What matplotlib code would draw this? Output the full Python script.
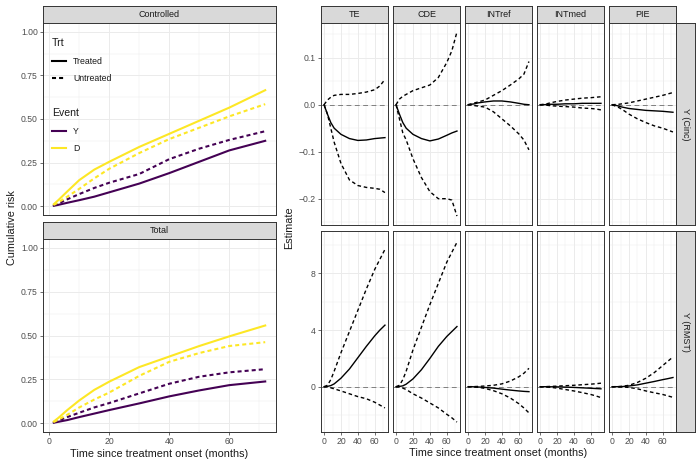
import matplotlib
matplotlib.use('Agg')
import matplotlib.pyplot as plt
from matplotlib.lines import Line2D
from matplotlib.ticker import MultipleLocator, FuncFormatter

plt.rcParams['font.family'] = ['Liberation Sans', 'DejaVu Sans']
plt.rcParams['lines.scale_dashes'] = False

PURPLE = '#440154'
YELLOW = '#FDE725'

# ---- left: cumulative risk by treatment / event ----
t_risk = [1.5, 3, 6, 10, 15, 20, 30, 40, 50, 60, 72]

ctrl_D_treated = [0.012, 0.035, 0.085, 0.15, 0.21, 0.255, 0.34, 0.415, 0.49, 0.565, 0.665]
ctrl_D_untreated = [0.008, 0.022, 0.055, 0.10, 0.16, 0.215, 0.305, 0.385, 0.45, 0.515, 0.585]
ctrl_Y_treated = [0.003, 0.008, 0.02, 0.035, 0.055, 0.08, 0.13, 0.19, 0.255, 0.32, 0.375]
ctrl_Y_untreated = [0.005, 0.015, 0.04, 0.07, 0.105, 0.135, 0.185, 0.27, 0.33, 0.38, 0.43]

tot_D_treated = [0.01, 0.03, 0.075, 0.13, 0.19, 0.237, 0.32, 0.38, 0.44, 0.495, 0.557]
tot_D_untreated = [0.007, 0.02, 0.048, 0.09, 0.135, 0.175, 0.27, 0.35, 0.40, 0.44, 0.462]
tot_Y_treated = [0.003, 0.008, 0.018, 0.035, 0.055, 0.075, 0.113, 0.153, 0.187, 0.217, 0.238]
tot_Y_untreated = [0.005, 0.015, 0.035, 0.06, 0.09, 0.115, 0.17, 0.225, 0.265, 0.29, 0.308]

# ---- right: effect decomposition estimates (est, upper, lower) ----
t_eff = [0, 4, 8, 12, 20, 30, 40, 50, 60, 66, 72]
effects = ['TE', 'CDE', 'INTref', 'INTmed', 'PIE']
outcomes = ['Y (Cinc)', 'Y (RMST)']

cinc_est = {
    'TE': [0, -0.02, -0.038, -0.05, -0.063, -0.072, -0.076, -0.075, -0.072, -0.071, -0.070],
    'CDE': [0, -0.02, -0.038, -0.05, -0.063, -0.072, -0.077, -0.073, -0.065, -0.06, -0.056],
    'INTref': [0, 0.001, 0.002, 0.004, 0.006, 0.008, 0.008, 0.006, 0.003, 0.001, 0.0],
    'INTmed': [0, 0, 0.0005, 0.001, 0.001, 0.002, 0.002, 0.003, 0.003, 0.003, 0.003],
    'PIE': [0, -0.001, -0.003, -0.005, -0.008, -0.01, -0.012, -0.013, -0.014, -0.015, -0.016],
}
cinc_hi = {
    'TE': [0, 0.01, 0.016, 0.02, 0.022, 0.022, 0.024, 0.027, 0.032, 0.04, 0.054],
    'CDE': [0, 0.012, 0.018, 0.022, 0.03, 0.036, 0.042, 0.058, 0.09, 0.115, 0.155],
    'INTref': [0, 0.002, 0.004, 0.006, 0.01, 0.02, 0.03, 0.042, 0.055, 0.065, 0.092],
    'INTmed': [0, 0.001, 0.002, 0.004, 0.007, 0.01, 0.012, 0.014, 0.015, 0.016, 0.017],
    'PIE': [0, 0.0005, 0.001, 0.002, 0.004, 0.008, 0.012, 0.016, 0.02, 0.023, 0.026],
}
cinc_lo = {
    'TE': [0, -0.02, -0.05, -0.08, -0.125, -0.16, -0.172, -0.176, -0.178, -0.18, -0.187],
    'CDE': [0, -0.03, -0.06, -0.075, -0.115, -0.155, -0.185, -0.2, -0.2, -0.203, -0.237],
    'INTref': [0, -0.001, -0.002, -0.003, -0.005, -0.015, -0.03, -0.045, -0.062, -0.075, -0.096],
    'INTmed': [0, -0.0005, -0.001, -0.002, -0.003, -0.004, -0.005, -0.007, -0.008, -0.009, -0.011],
    'PIE': [0, -0.003, -0.006, -0.01, -0.02, -0.03, -0.038, -0.045, -0.05, -0.054, -0.058],
}

rmst_est = {
    'TE': [0, 0.02, 0.08, 0.2, 0.6, 1.25, 2.05, 2.85, 3.6, 4.0, 4.35],
    'CDE': [0, 0.02, 0.06, 0.18, 0.55, 1.2, 2.0, 2.85, 3.55, 3.9, 4.25],
    'INTref': [0, 0, -0.01, -0.02, -0.05, -0.1, -0.17, -0.24, -0.3, -0.33, -0.35],
    'INTmed': [0, 0, 0, -0.005, -0.01, -0.03, -0.05, -0.08, -0.11, -0.13, -0.15],
    'PIE': [0, 0, 0.005, 0.01, 0.05, 0.13, 0.25, 0.37, 0.5, 0.57, 0.65],
}
rmst_hi = {
    'TE': [0, 0.1, 0.5, 1.1, 2.4, 3.9, 5.4, 6.9, 8.3, 9.0, 9.7],
    'CDE': [0, 0.1, 0.5, 1.1, 2.6, 4.2, 5.8, 7.3, 8.8, 9.5, 10.2],
    'INTref': [0, 0.005, 0.01, 0.02, 0.05, 0.1, 0.2, 0.4, 0.7, 0.95, 1.3],
    'INTmed': [0, 0, 0.01, 0.02, 0.04, 0.07, 0.1, 0.14, 0.18, 0.21, 0.25],
    'PIE': [0, 0.005, 0.01, 0.03, 0.1, 0.3, 0.6, 1.0, 1.5, 1.8, 2.1],
}
rmst_lo = {
    'TE': [0, -0.02, -0.08, -0.15, -0.3, -0.5, -0.7, -0.85, -1.1, -1.3, -1.5],
    'CDE': [0, -0.03, -0.1, -0.2, -0.5, -0.8, -1.15, -1.5, -1.95, -2.2, -2.5],
    'INTref': [0, -0.005, -0.02, -0.04, -0.12, -0.28, -0.5, -0.8, -1.2, -1.5, -1.85],
    'INTmed': [0, -0.01, -0.02, -0.04, -0.1, -0.2, -0.3, -0.42, -0.55, -0.65, -0.77],
    'PIE': [0, -0.005, -0.01, -0.02, -0.05, -0.15, -0.3, -0.43, -0.55, -0.65, -0.75],
}

W, H = 700, 466
fig = plt.figure(figsize=(7, 4.66), dpi=100)


def box(x0, y0, x1, y1):
    # pixel box (top-left origin) -> figure fraction rect
    return [x0 / W, 1 - y1 / H, (x1 - x0) / W, (y1 - y0) / H]


def style_panel(ax):
    for s in ax.spines.values():
        s.set_color('#333333')
        s.set_linewidth(0.7)
    ax.grid(which='major', color='#EBEBEB', lw=0.7)
    ax.grid(which='minor', color='#EBEBEB', lw=0.35)
    ax.set_axisbelow(True)
    ax.tick_params(which='major', length=2.2, width=0.5, color='#333333',
                   labelsize=6.2, labelcolor='#4D4D4D', pad=1.5)
    ax.tick_params(which='minor', length=0)


def strip(x0, y0, x1, y1, label, rotation=0):
    ax = fig.add_axes(box(x0, y0, x1, y1))
    ax.set_facecolor('#D9D9D9')
    ax.set_xticks([])
    ax.set_yticks([])
    for s in ax.spines.values():
        s.set_color('#333333')
        s.set_linewidth(0.7)
    ax.text(0.5, 0.5, label, ha='center', va='center', rotation=rotation,
            fontsize=6.5, color='#1A1A1A', transform=ax.transAxes)


def minus(fmt):
    return FuncFormatter(lambda v, p: (fmt % v).replace('-', '\u2212'))


# ---------------- left panels ----------------
left_rows = [
    ('Controlled', (6, 23, 215), ctrl_Y_treated, ctrl_Y_untreated, ctrl_D_treated, ctrl_D_untreated),
    ('Total', (222, 239, 432), tot_Y_treated, tot_Y_untreated, tot_D_treated, tot_D_untreated),
]
dash_left = (0, (2.9, 2.2))
left_axes = []
for name, (s0, p0, p1), yt, yu, dt, du in left_rows:
    strip(43, s0, 276, p0, name)
    ax = fig.add_axes(box(43, p0, 276, p1))
    style_panel(ax)
    ax.plot(t_risk, yt, color=PURPLE, lw=1.5)
    ax.plot(t_risk, yu, color=PURPLE, lw=1.5, ls=dash_left)
    ax.plot(t_risk, dt, color=YELLOW, lw=1.5)
    ax.plot(t_risk, du, color=YELLOW, lw=1.5, ls=dash_left)
    ax.set_xlim(-2.1, 75.6)
    ax.set_ylim(-0.05, 1.05)
    ax.xaxis.set_major_locator(MultipleLocator(20))
    ax.xaxis.set_minor_locator(MultipleLocator(10))
    ax.yaxis.set_major_locator(MultipleLocator(0.25))
    ax.yaxis.set_minor_locator(MultipleLocator(0.125))
    ax.yaxis.set_major_formatter(minus('%.2f'))
    left_axes.append(ax)

left_axes[0].tick_params(labelbottom=False, bottom=False)

trt_handles = [Line2D([], [], color='black', lw=1.5),
               Line2D([], [], color='black', lw=1.5, ls=dash_left)]
ev_handles = [Line2D([], [], color=PURPLE, lw=1.5),
              Line2D([], [], color=YELLOW, lw=1.5)]
leg_kw = dict(loc='upper left', frameon=False, fontsize=6.3, title_fontsize=7.6,
              handlelength=1.55, handletextpad=0.85, labelspacing=0.95,
              borderpad=0, borderaxespad=0, bbox_transform=fig.transFigure)
leg1 = left_axes[0].legend(trt_handles, ['Treated', 'Untreated'], title='Trt',
                           bbox_to_anchor=(52 / W, 1 - 38.5 / H), **leg_kw)
leg1._legend_box.align = 'left'
left_axes[0].add_artist(leg1)
leg2 = left_axes[0].legend(ev_handles, ['Y', 'D'], title='Event',
                           bbox_to_anchor=(52 / W, 1 - 108.5 / H), **leg_kw)
leg2._legend_box.align = 'left'
for lg in (leg1, leg2):
    lg.get_title().set_color('#1A1A1A')
    for t in lg.get_texts():
        t.set_color('#1A1A1A')

fig.text(12 / W, 1 - 228 / H, 'Cumulative risk', rotation=90, ha='center',
         va='center', fontsize=7.8, color='#1A1A1A')
fig.text(159.5 / W, 1 - 454 / H, 'Time since treatment onset (months)',
         ha='center', va='center', fontsize=7.8, color='#1A1A1A')

# ---------------- right panels ----------------
cols_px = [(321, 388), (393, 460), (465, 532), (537, 604), (609, 676)]
rows_px = [(23, 225), (231, 432)]
row_data = [(cinc_est, cinc_hi, cinc_lo), (rmst_est, rmst_hi, rmst_lo)]
row_ylim = [(-0.256, 0.174), (-3.2, 11.0)]
row_major = [0.1, 4]
dash_right = (0, (2.6, 2.0))

for j, eff in enumerate(effects):
    strip(cols_px[j][0], 6, cols_px[j][1], 23, eff)

for i, (r0, r1) in enumerate(rows_px):
    strip(676, r0, 695, r1, outcomes[i], rotation=-90)
    est, hi, lo = row_data[i]
    for j, eff in enumerate(effects):
        c0, c1 = cols_px[j]
        ax = fig.add_axes(box(c0, r0, c1, r1))
        style_panel(ax)
        ax.axhline(0, color='#7F7F7F', lw=0.7, ls=(0, (3.5, 2.5)))
        ax.plot(t_eff, est[eff], color='black', lw=1.0)
        ax.plot(t_eff, hi[eff], color='black', lw=1.0, ls=dash_right)
        ax.plot(t_eff, lo[eff], color='black', lw=1.0, ls=dash_right)
        ax.set_xlim(-3.6, 75.6)
        ax.set_ylim(*row_ylim[i])
        ax.xaxis.set_major_locator(MultipleLocator(20))
        ax.xaxis.set_minor_locator(MultipleLocator(10))
        ax.yaxis.set_major_locator(MultipleLocator(row_major[i]))
        ax.yaxis.set_minor_locator(MultipleLocator(row_major[i] / 2))
        ax.yaxis.set_major_formatter(minus('%.1f' if i == 0 else '%d'))
        if j > 0:
            ax.tick_params(labelleft=False, left=False)
        if i == 0:
            ax.tick_params(labelbottom=False, bottom=False)

fig.text(289 / W, 1 - 228 / H, 'Estimate', rotation=90, ha='center',
         va='center', fontsize=7.8, color='#1A1A1A')
fig.text(498.5 / W, 1 - 453 / H, 'Time since treatment onset (months)',
         ha='center', va='center', fontsize=7.8, color='#1A1A1A')

fig.savefig('out.png', dpi=100, facecolor='white')
